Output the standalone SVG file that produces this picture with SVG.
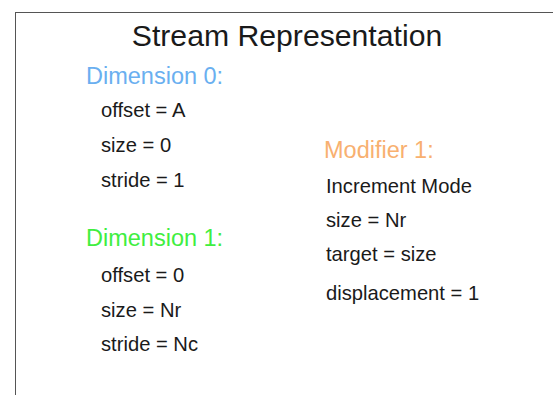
<svg xmlns="http://www.w3.org/2000/svg" width="553" height="395" viewBox="0 0 553 395">
<style>
text{font-family:"Liberation Sans",Arial,sans-serif;fill:#1a1a1a}
.h{font-size:23.5px}
.b{font-size:20.2px}
</style>
<rect x="0" y="0" width="553" height="395" fill="#fff"/>
<rect x="15.5" y="12.5" width="560" height="400" fill="none" stroke="#555" stroke-width="1"/>
<g id="title"><text x="287" y="46" font-size="30.2" text-anchor="middle">Stream Representation</text></g>
<g id="dim0">
<text class="h" x="86" y="83.5" style="fill:#6aaff0">Dimension 0:</text>
<text class="b" x="101" y="117">offset = A</text>
<text class="b" x="101" y="151.5">size = 0</text>
<text class="b" x="101" y="186.5">stride = 1</text>
</g>
<g id="dim1">
<text class="h" x="86" y="246" style="fill:#40ee40">Dimension 1:</text>
<text class="b" x="101" y="282">offset = 0</text>
<text class="b" x="101" y="316.5">size = Nr</text>
<text class="b" x="101" y="351">stride = Nc</text>
</g>
<g id="mod1">
<text class="h" x="324" y="158" style="fill:#f8b070">Modifier 1:</text>
<text class="b" x="326" y="193">Increment Mode</text>
<text class="b" x="326" y="226.5">size = Nr</text>
<text class="b" x="326" y="261">target = size</text>
<text class="b" x="326" y="300">displacement = 1</text>
</g>
<g id="connectors"></g>
</svg>
